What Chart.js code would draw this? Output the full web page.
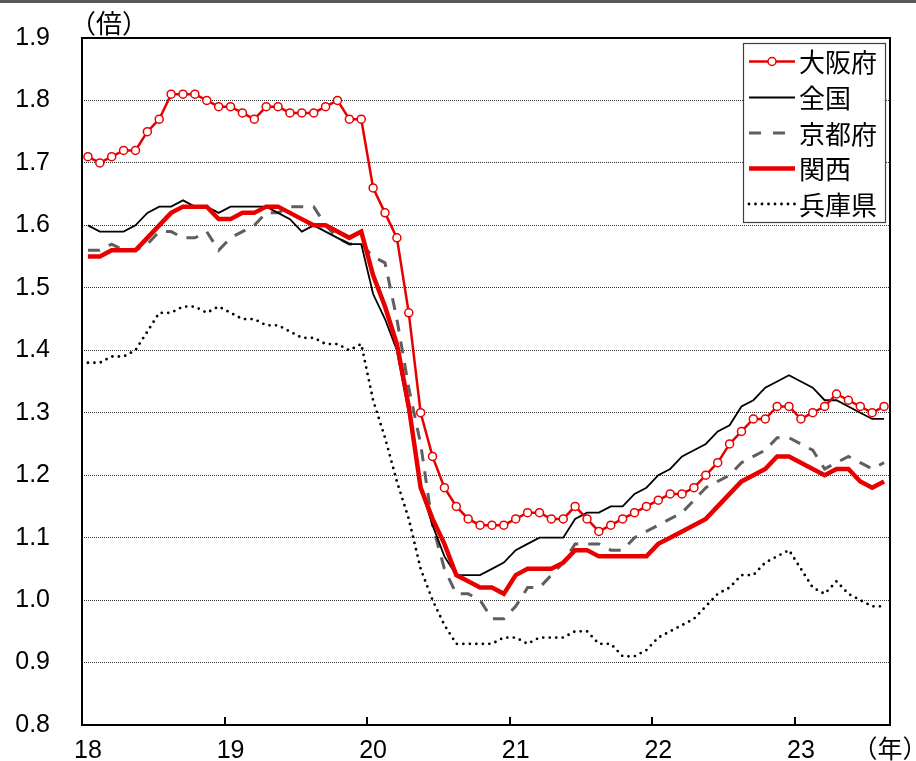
<!DOCTYPE html>
<html>
<head>
<meta charset="utf-8">
<script src="https://cdn.jsdelivr.net/npm/chart.js@4/dist/chart.umd.min.js"></script>
<style>
html,body{margin:0;padding:0;background:#fff;}
canvas{display:block;}
</style>
</head>
<body>
<canvas id="c" width="916" height="761"></canvas>
<script>
// Monthly data, Jan 2018 - Aug 2023 (68 months)
const seriesNames = ['大阪府', '全国', '京都府', '関西', '兵庫県'];
const xTickLabels = ['18', '19', '20', '21', '22', '23', '（年）'];
const yTickLabels = ['0.8','0.9','1.0','1.1','1.2','1.3','1.4','1.5','1.6','1.7','1.8','1.9'];

const osaka = [
  1.71,1.70,1.71,1.72,1.72,1.75,1.77,1.81,1.81,1.81,1.80,1.79,
  1.79,1.78,1.77,1.79,1.79,1.78,1.78,1.78,1.79,1.80,1.77,1.77,
  1.66,1.62,1.58,1.46,1.30,1.23,1.18,1.15,1.13,1.12,1.12,1.12,
  1.13,1.14,1.14,1.13,1.13,1.15,1.13,1.11,1.12,1.13,1.14,1.15,
  1.16,1.17,1.17,1.18,1.20,1.22,1.25,1.27,1.29,1.29,1.31,1.31,
  1.29,1.30,1.31,1.33,1.32,1.31,1.30,1.31
];
const national = [
  1.60,1.59,1.59,1.59,1.60,1.62,1.63,1.63,1.64,1.63,1.63,1.62,
  1.63,1.63,1.63,1.63,1.62,1.61,1.59,1.60,1.59,1.58,1.57,1.57,
  1.49,1.45,1.40,1.30,1.18,1.12,1.07,1.04,1.04,1.04,1.05,1.06,
  1.08,1.09,1.10,1.10,1.10,1.13,1.14,1.14,1.15,1.15,1.17,1.18,
  1.20,1.21,1.23,1.24,1.25,1.27,1.28,1.31,1.32,1.34,1.35,1.36,
  1.35,1.34,1.32,1.32,1.31,1.30,1.29,1.29
];
const kyoto = [
  1.56,1.56,1.57,1.56,1.56,1.57,1.59,1.59,1.58,1.58,1.59,1.56,
  1.58,1.59,1.60,1.62,1.62,1.63,1.63,1.63,1.60,1.58,1.57,1.57,
  1.55,1.54,1.45,1.34,1.25,1.12,1.05,1.01,1.01,1.00,0.97,0.97,
  0.99,1.02,1.02,1.04,1.06,1.09,1.09,1.09,1.08,1.08,1.10,1.11,
  1.12,1.13,1.14,1.16,1.18,1.19,1.20,1.22,1.23,1.24,1.26,1.26,
  1.25,1.24,1.21,1.22,1.23,1.22,1.21,1.22
];
const kansai = [
  1.55,1.55,1.56,1.56,1.56,1.58,1.60,1.62,1.63,1.63,1.63,1.61,
  1.61,1.62,1.62,1.63,1.63,1.62,1.61,1.60,1.60,1.59,1.58,1.59,
  1.52,1.47,1.41,1.31,1.18,1.13,1.09,1.04,1.03,1.02,1.02,1.01,
  1.04,1.05,1.05,1.05,1.06,1.08,1.08,1.07,1.07,1.07,1.07,1.07,
  1.09,1.10,1.11,1.12,1.13,1.15,1.17,1.19,1.20,1.21,1.23,1.23,
  1.22,1.21,1.20,1.21,1.21,1.19,1.18,1.19
];
const hyogo = [
  1.38,1.38,1.39,1.39,1.40,1.43,1.46,1.46,1.47,1.47,1.46,1.47,
  1.46,1.45,1.45,1.44,1.44,1.43,1.42,1.42,1.41,1.41,1.40,1.41,
  1.32,1.26,1.19,1.13,1.05,1.00,0.96,0.93,0.93,0.93,0.93,0.94,
  0.94,0.93,0.94,0.94,0.94,0.95,0.95,0.93,0.93,0.91,0.91,0.92,
  0.94,0.95,0.96,0.97,0.99,1.01,1.02,1.04,1.04,1.06,1.07,1.08,
  1.05,1.02,1.01,1.03,1.01,1.00,0.99,0.99
];

const RED = 'rgb(232,0,0)';
const GRAY = 'rgb(95,95,95)';
const toPts = arr => arr.map((v, i) => ({x: i + 0.5, y: v}));
const nMonths = osaka.length;
const xTickValues = [0.5, 12.5, 24.5, 36.5, 48.5, 60.5, nMonths];
const yearBounds = [12, 24, 36, 48, 60];

const datasets = [
  {label: seriesNames[0], data: toPts(osaka), borderColor: RED, borderWidth: 2.5,
   pointRadius: 4, pointBorderWidth: 1.5, pointBackgroundColor: '#fff', pointBorderColor: RED, order: 0},
  {label: seriesNames[1], data: toPts(national), borderColor: '#000', borderWidth: 1.8, pointRadius: 0, order: 2},
  {label: seriesNames[2], data: toPts(kyoto), borderColor: GRAY, borderWidth: 3, borderDash: [12, 10], pointRadius: 0, order: 3},
  {label: seriesNames[3], data: toPts(kansai), borderColor: RED, borderWidth: 4.5, pointRadius: 0, order: 1},
  {label: seriesNames[4], data: toPts(hyogo), borderColor: '#000', borderWidth: 2.8, borderDash: [0, 6.5],
   borderCapStyle: 'round', pointRadius: 0, order: 4}
];

const CJK = '"Noto Sans CJK JP", sans-serif';
const NUM = '"Liberation Sans", Arial, "Noto Sans CJK JP", sans-serif';

const zeroPad = s => { s.paddingLeft = 0; s.paddingRight = 0; s.paddingTop = 0; s.paddingBottom = 0; };

const decor = {
  id: 'decor',
  beforeDraw(chart) {
    const ctx = chart.ctx;
    ctx.save();
    ctx.fillStyle = '#fff';
    ctx.fillRect(0, 0, chart.width, chart.height);
    ctx.fillStyle = 'rgb(89,89,89)';
    ctx.fillRect(0, 0, chart.width, 3);
    ctx.restore();
  },
  afterDatasetsDraw(chart) {
    const ctx = chart.ctx;
    const a = chart.chartArea;
    const xs = chart.scales.x;
    ctx.save();
    // frame
    ctx.strokeStyle = '#000';
    ctx.lineWidth = 2;
    ctx.strokeRect(a.left, a.top, a.right - a.left, a.bottom - a.top);
    // inner tick marks on the x axis at year boundaries
    ctx.beginPath();
    yearBounds.forEach(v => {
      const px = Math.round(xs.getPixelForValue(v));
      ctx.moveTo(px, a.bottom);
      ctx.lineTo(px, a.bottom - 8);
    });
    ctx.stroke();
    // unit label
    ctx.fillStyle = '#000';
    ctx.font = '26px ' + CJK;
    ctx.textAlign = 'center';
    ctx.textBaseline = 'middle';
    ctx.fillText('（倍）', 109, 23);
    // legend
    const lx = 743, ly = 43, lw = 142, lh = 179;
    ctx.fillStyle = '#fff';
    ctx.fillRect(lx, ly, lw, lh);
    ctx.strokeStyle = '#404040';
    ctx.lineWidth = 1.2;
    ctx.strokeRect(lx + 0.5, ly + 0.5, lw, lh);
    const rows = [61.5, 97.5, 133, 168.5, 204];
    chart.data.datasets.forEach((ds, i) => {
      const y = rows[i];
      ctx.save();
      ctx.strokeStyle = ds.borderColor;
      ctx.lineWidth = ds.borderWidth;
      ctx.lineCap = ds.borderCapStyle || 'butt';
      let x2 = 795;
      if (i === 2) { ctx.setLineDash([12, 12]); x2 = 785; }
      else if (ds.borderDash) ctx.setLineDash(ds.borderDash);
      ctx.beginPath();
      ctx.moveTo(749, y);
      ctx.lineTo(x2, y);
      ctx.stroke();
      ctx.restore();
      if (ds.pointRadius) {
        ctx.save();
        ctx.beginPath();
        ctx.arc(772, y, ds.pointRadius, 0, Math.PI * 2);
        ctx.fillStyle = '#fff';
        ctx.fill();
        ctx.lineWidth = ds.pointBorderWidth;
        ctx.strokeStyle = ds.pointBorderColor;
        ctx.stroke();
        ctx.restore();
      }
      ctx.fillStyle = '#000';
      ctx.font = '26px ' + CJK;
      ctx.textAlign = 'left';
      ctx.textBaseline = 'middle';
      ctx.fillText(ds.label, 799, y + 1);
    });
    ctx.restore();
  }
};

new Chart(document.getElementById('c'), {
  type: 'line',
  data: {datasets},
  options: {
    responsive: false,
    animation: false,
    devicePixelRatio: 1,
    layout: {padding: {top: 38, right: 26, left: 0, bottom: 0}},
    plugins: {legend: {display: false}, tooltip: {enabled: false}},
    elements: {line: {tension: 0}},
    scales: {
      x: {
        type: 'linear',
        min: 0,
        max: nMonths,
        afterFit: s => { s.height = 36; zeroPad(s); },
        afterBuildTicks: s => { s.ticks = xTickValues.map(v => ({value: v})); },
        grid: {display: false, drawTicks: false},
        border: {display: false},
        ticks: {
          autoSkip: false,
          maxRotation: 0,
          padding: 11,
          color: '#000',
          font: {size: 25, family: NUM},
          callback: (v, i) => xTickLabels[i]
        }
      },
      y: {
        min: 0.8,
        max: 1.9,
        afterFit: s => { s.width = 82; zeroPad(s); },
        afterBuildTicks: s => { s.ticks = yTickLabels.map(t => ({value: parseFloat(t)})); },
        grid: {color: 'rgb(50,50,50)', lineWidth: 1, drawTicks: false},
        border: {display: false, dash: [1, 1]},
        ticks: {
          padding: 32,
          color: '#000',
          font: {size: 25, family: NUM},
          callback: (v, i) => yTickLabels[i]
        }
      }
    }
  },
  plugins: [decor]
});
</script>
</body>
</html>
